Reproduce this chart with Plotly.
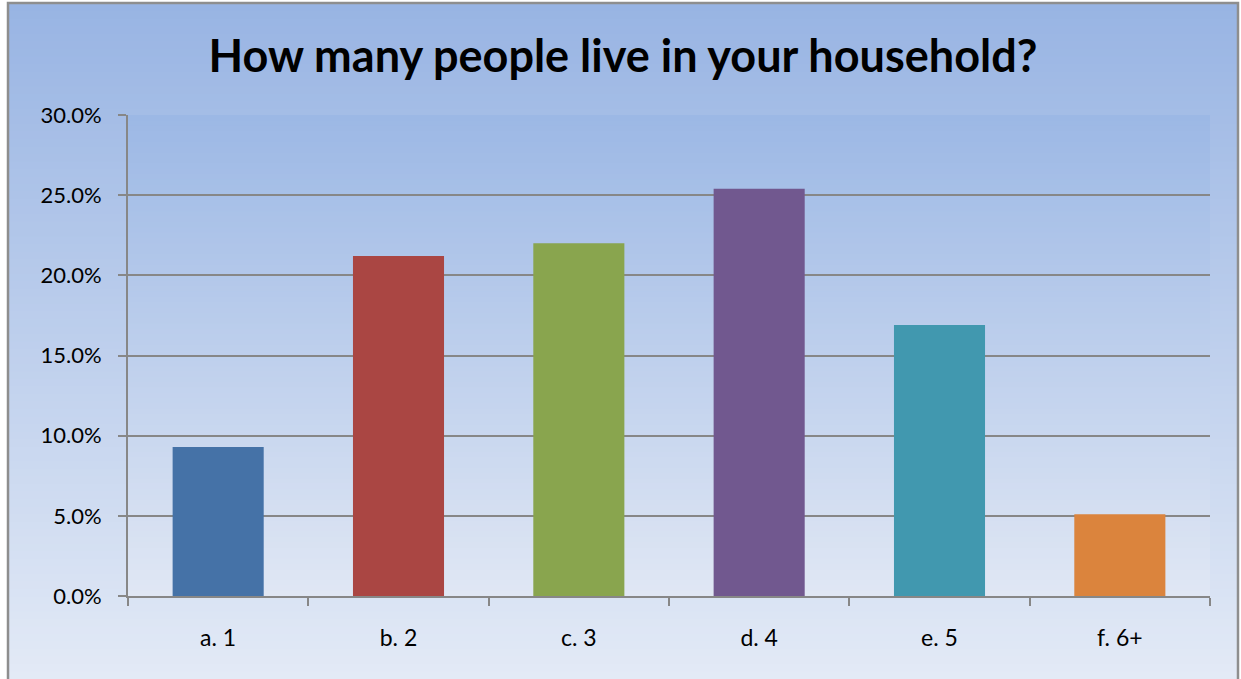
import plotly.graph_objects as go

categories = ["a. 1", "b. 2", "c. 3", "d. 4", "e. 5", "f. 6+"]
values = [0.093, 0.212, 0.220, 0.254, 0.169, 0.051]
bar_colors = ["#4572A7", "#AA4643", "#89A54E", "#71588F", "#4198AF", "#DB843D"]
y_ticks = [0, 0.05, 0.10, 0.15, 0.20, 0.25, 0.30]
title_text = "How many people live in your household?"

W, H = 1241, 679
L, R, T, B = 128, 1210, 115, 596


def px2x(px):
    return (px - L) / (R - L)


def px2y(py):
    return (B - py) / (B - T)


def lerp(c1, c2, t):
    a = [int(c1[i:i + 2], 16) for i in (1, 3, 5)]
    b = [int(c2[i:i + 2], 16) for i in (1, 3, 5)]
    return "rgb(%d,%d,%d)" % tuple(round(a[k] + (b[k] - a[k]) * t) for k in range(3))


shapes = []


def gradient(x0, x1, y0, y1, ctop, cbot, n=90):
    h = (y1 - y0) / n
    for i in range(n):
        ya = y0 + i * h
        yb = ya + h + 0.8
        shapes.append(dict(type="rect", xref="paper", yref="paper",
                           x0=px2x(x0), x1=px2x(x1), y0=px2y(min(yb, y1)), y1=px2y(ya),
                           fillcolor=lerp(ctop, cbot, (i + 0.5) / n),
                           line=dict(width=0), layer="below"))


# outer chart area gradient
gradient(9, 1237, 4, 679, "#98B4E3", "#E3EAF6")
# plot area gradient
gradient(L, R, T, B, "#9CB8E5", "#E0E7F4")
# outer border
shapes.append(dict(type="rect", xref="paper", yref="paper",
                   x0=px2x(8), x1=px2x(1238), y0=px2y(690), y1=px2y(3),
                   line=dict(color="#8E8E8E", width=2.5), fillcolor="rgba(0,0,0,0)",
                   layer="above"))

fig = go.Figure(go.Bar(x=categories, y=values, marker=dict(color=bar_colors, line=dict(width=0)),
                       width=0.505))

fig.update_layout(
    width=W, height=H,
    margin=dict(l=L, r=W - R, t=T, b=H - B, pad=0),
    paper_bgcolor="white", plot_bgcolor="rgba(0,0,0,0)",
    showlegend=False,
    shapes=shapes,
    font=dict(family="Lato", color="black"),
    title=dict(text="<b>" + title_text + "</b>", x=623 / W, xanchor="center",
               y=1 - 56 / H, yanchor="middle", font=dict(size=45, family="Lato", color="black")),
    bargap=0.5,
)
fig.update_xaxes(showgrid=False, showline=True, linecolor="#878787", linewidth=2,
                 ticks="outside", ticklen=8, tickcolor="#878787", tickwidth=2,
                 tickson="boundaries", tickfont=dict(size=23, family="Lato"),
                 ticklabelstandoff=20, range=[-0.5, 5.5])
fig.update_yaxes(range=[0, 0.30], tickvals=y_ticks, tickformat=".1%", showgrid=True,
                 gridcolor="#878787", gridwidth=2, showline=True, linecolor="#878787",
                 linewidth=2, ticks="outside", ticklen=8, tickcolor="#878787", tickwidth=2,
                 tickfont=dict(size=22, family="Lato"), ticklabelstandoff=12, zeroline=False)

fig.write_html("out.html", config={"displayModeBar": False},
               post_script="document.body.style.margin='0';document.body.style.overflow='hidden';")
